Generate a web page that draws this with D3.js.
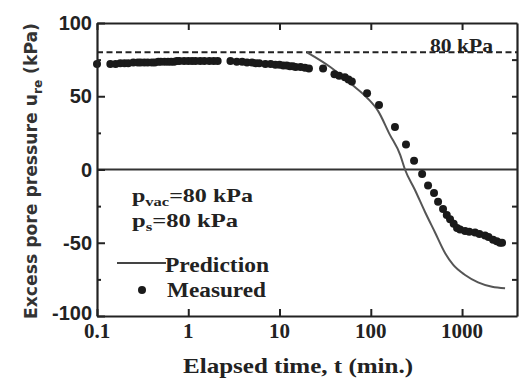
<!DOCTYPE html>
<html>
<head>
<meta charset="utf-8">
<script src="https://cdn.jsdelivr.net/npm/d3@7"></script>
<style>
  body { margin: 0; background: #fff; }
  svg { display: block; }
</style>
</head>
<body>
<div id="chart"></div>
<script>
let w = 519;
let h = 378;

// measured points (time in min, pressure in kPa)
const measuredT = [0.1, 0.14, 0.16, 0.18, 0.2, 0.22, 0.25, 0.28, 0.3, 0.33, 0.36, 0.4, 0.43, 0.47, 0.5, 0.55, 0.6, 0.65, 0.7, 0.75, 0.8, 0.9, 1.0, 1.1, 1.2, 1.35, 1.5, 1.7, 1.9, 2.1,
  2.9, 3.4, 3.9, 4.4, 5, 5.5, 6, 7, 8, 9, 10, 11, 12, 13, 14, 15, 17, 19, 21,
  30, 40, 45, 52, 57, 62, 91, 123, 184, 243, 298, 365, 424, 493, 546, 619, 680, 739, 810, 881, 950, 1079, 1200, 1388, 1550, 1786, 1950, 2188, 2400, 2600, 2743];
const measuredU = [72, 72, 72, 72.5, 72.5, 72.5, 73, 73, 73, 73, 73, 73, 73, 73.5, 73.5, 73.5, 73.5, 73.5, 73.5, 74, 74, 74, 74, 74, 74, 74, 74, 74, 74, 74,
  74, 73.5, 73.5, 73, 73, 72.5, 72.5, 72, 72, 71.5, 71.5, 71, 71, 70.5, 70.5, 70, 70, 69.5, 69,
  69, 65, 64, 63, 61.5, 60, 52, 44, 29, 17, 6, -3, -11, -16, -22, -27, -31, -34, -37, -40, -41, -42, -42.5, -43, -44, -45, -46, -48, -49, -50, -50];

// prediction curve
const predT = [20, 36, 62, 91, 120, 161, 210, 237, 305, 393, 506, 651, 797, 1079, 1497, 2131, 2960];
const predU = [80, 70, 58, 49, 40, 24, 10, 0, -14, -29, -43, -57, -65, -72, -77, -80, -81];

const xTicks = [0.1, 1, 10, 100, 1000];
const xTickLabels = ["0.1", "1", "10", "100", "1000"];
const yTicks = [-100, -50, 0, 50, 100];
const yMinor = [-75, -25, 25, 75];
const limitU = 80;

const measured = measuredT.map((t, i) => ({ t: t, u: measuredU[i] }));
const pred = predT.map((t, i) => ({ t: t, u: predU[i] }));

const padL = 97, padR = 517, padT = 23, padB = 316;

let svg = d3.select("#chart")
    .append("svg")
    .attr("width", w)
    .attr("height", h);

let xScale = d3.scaleLog().domain([0.1, 4000]).range([padL, padR]);
let yScale = d3.scaleLinear().domain([-100, 100]).range([padB, padT]);

const ink = "#222";
const serif = "'Liberation Serif', 'Times New Roman', serif";

// dashed 80 kPa line
svg.append("line")
    .attr("x1", padL).attr("x2", padR)
    .attr("y1", yScale(limitU)).attr("y2", yScale(limitU))
    .attr("stroke", ink).attr("stroke-width", 2)
    .attr("stroke-dasharray", "6,3.5");

// zero line
svg.append("line")
    .attr("x1", padL).attr("x2", padR)
    .attr("y1", yScale(0)).attr("y2", yScale(0))
    .attr("stroke", "#333").attr("stroke-width", 2);

// prediction curve
let line = d3.line()
    .x(d => xScale(d.t))
    .y(d => yScale(d.u))
    .curve(d3.curveMonotoneX);

svg.append("path")
    .datum(pred)
    .attr("d", line)
    .attr("fill", "none")
    .attr("stroke", "#555")
    .attr("stroke-width", 2);

// measured dots
svg.append("g").selectAll("circle")
    .data(measured)
    .enter()
    .append("circle")
    .attr("cx", d => xScale(d.t))
    .attr("cy", d => yScale(d.u))
    .attr("r", 4)
    .attr("fill", "#1a1a1a");

// axes frame
const axisStroke = 2.2;
svg.append("g")
    .attr("transform", "translate(0," + padB + ")")
    .call(d3.axisBottom(xScale).tickValues(xTicks).tickFormat("").tickSizeInner(-7).tickSizeOuter(0))
    .call(g => g.select(".domain").attr("stroke", ink).attr("stroke-width", axisStroke))
    .call(g => g.selectAll(".tick line").attr("stroke", ink).attr("stroke-width", 2));

svg.append("g")
    .attr("transform", "translate(0," + padT + ")")
    .call(d3.axisTop(xScale).tickValues(xTicks).tickFormat("").tickSizeInner(-7).tickSizeOuter(0))
    .call(g => g.select(".domain").attr("stroke", ink).attr("stroke-width", axisStroke))
    .call(g => g.selectAll(".tick line").attr("stroke", ink).attr("stroke-width", 2));

svg.append("g")
    .attr("transform", "translate(" + padL + ",0)")
    .call(d3.axisLeft(yScale).tickValues(yTicks).tickFormat("").tickSizeInner(-8).tickSizeOuter(0))
    .call(g => g.select(".domain").attr("stroke", ink).attr("stroke-width", axisStroke))
    .call(g => g.selectAll(".tick line").attr("stroke", ink).attr("stroke-width", 2));

svg.append("g")
    .attr("transform", "translate(" + padL + ",0)")
    .call(d3.axisLeft(yScale).tickValues(yMinor).tickFormat("").tickSizeInner(-4).tickSizeOuter(0))
    .call(g => g.select(".domain").remove())
    .call(g => g.selectAll(".tick line").attr("stroke", ink).attr("stroke-width", 2));

svg.append("g")
    .attr("transform", "translate(" + padR + ",0)")
    .call(d3.axisRight(yScale).tickValues(yMinor.concat([-50, 50])).tickFormat("").tickSizeInner(-5).tickSizeOuter(0))
    .call(g => g.select(".domain").attr("stroke", ink).attr("stroke-width", axisStroke))
    .call(g => g.selectAll(".tick line").attr("stroke", ink).attr("stroke-width", 2));

// y tick labels
svg.append("g").selectAll("text")
    .data(yTicks)
    .enter()
    .append("text")
    .attr("x", padL - 5)
    .attr("y", d => yScale(d) + (d === -100 ? 4 : 7))
    .attr("text-anchor", "end")
    .attr("font-family", "'Liberation Sans Narrow', 'Liberation Sans', Arial, sans-serif")
    .attr("font-weight", "bold")
    .attr("font-size", 20)
    .attr("fill", ink)
    .text(d => d);

// x tick labels
svg.append("g").selectAll("text")
    .data(xTicks)
    .enter()
    .append("text")
    .attr("x", d => xScale(d))
    .attr("y", 338)
    .attr("text-anchor", "middle")
    .attr("font-family", serif)
    .attr("font-weight", "bold")
    .attr("font-size", 21)
    .attr("fill", ink)
    .text((d, i) => xTickLabels[i]);

// axis titles
svg.append("text")
    .attr("x", 183)
    .attr("y", 373)
    .attr("font-family", serif)
    .attr("font-weight", "bold")
    .attr("font-size", 21)
    .attr("textLength", 230)
    .attr("lengthAdjust", "spacingAndGlyphs")
    .attr("fill", ink)
    .text("Elapsed time, t (min.)");

let yTitle = svg.append("text")
    .attr("transform", "translate(37,171) rotate(-90)")
    .attr("text-anchor", "middle")
    .attr("font-family", "'DejaVu Sans', sans-serif")
    .attr("font-weight", "bold")
    .attr("font-size", 17)
    .attr("fill", "#333")
    .attr("textLength", 296)
    .attr("lengthAdjust", "spacingAndGlyphs");
yTitle.append("tspan").text("Excess pore pressure u");
yTitle.append("tspan").attr("dy", 5).attr("font-size", 12).text("re");
yTitle.append("tspan").attr("dy", -5).text(" (kPa)");

// annotations
svg.append("text")
    .attr("x", 430)
    .attr("y", 52)
    .attr("font-family", serif)
    .attr("font-weight", "bold")
    .attr("font-size", 19)
    .attr("textLength", 63)
    .attr("lengthAdjust", "spacingAndGlyphs")
    .attr("fill", ink)
    .text("80 kPa");

let pv = svg.append("text")
    .attr("x", 132)
    .attr("y", 202)
    .attr("font-family", serif)
    .attr("font-weight", "bold")
    .attr("font-size", 19)
    .attr("textLength", 121)
    .attr("lengthAdjust", "spacingAndGlyphs")
    .attr("fill", ink);
pv.append("tspan").text("p");
pv.append("tspan").attr("dy", 4).attr("font-size", 13).text("vac");
pv.append("tspan").attr("dy", -4).text("=80 kPa");

let ps = svg.append("text")
    .attr("x", 132)
    .attr("y", 227)
    .attr("font-family", serif)
    .attr("font-weight", "bold")
    .attr("font-size", 19)
    .attr("textLength", 106)
    .attr("lengthAdjust", "spacingAndGlyphs")
    .attr("fill", ink);
ps.append("tspan").text("p");
ps.append("tspan").attr("dy", 4).attr("font-size", 13).text("s");
ps.append("tspan").attr("dy", -4).text("=80 kPa");

// legend
svg.append("line")
    .attr("x1", 117).attr("x2", 166)
    .attr("y1", 263).attr("y2", 263)
    .attr("stroke", "#444").attr("stroke-width", 2);
svg.append("text")
    .attr("x", 165).attr("y", 272)
    .attr("font-family", serif).attr("font-weight", "bold")
    .attr("font-size", 20).attr("textLength", 104)
    .attr("lengthAdjust", "spacingAndGlyphs")
    .attr("fill", ink)
    .text("Prediction");
svg.append("circle")
    .attr("cx", 142).attr("cy", 290).attr("r", 4)
    .attr("fill", "#1a1a1a");
svg.append("text")
    .attr("x", 167).attr("y", 297)
    .attr("font-family", serif).attr("font-weight", "bold")
    .attr("font-size", 20).attr("textLength", 99)
    .attr("lengthAdjust", "spacingAndGlyphs")
    .attr("fill", ink)
    .text("Measured");
</script>
</body>
</html>
